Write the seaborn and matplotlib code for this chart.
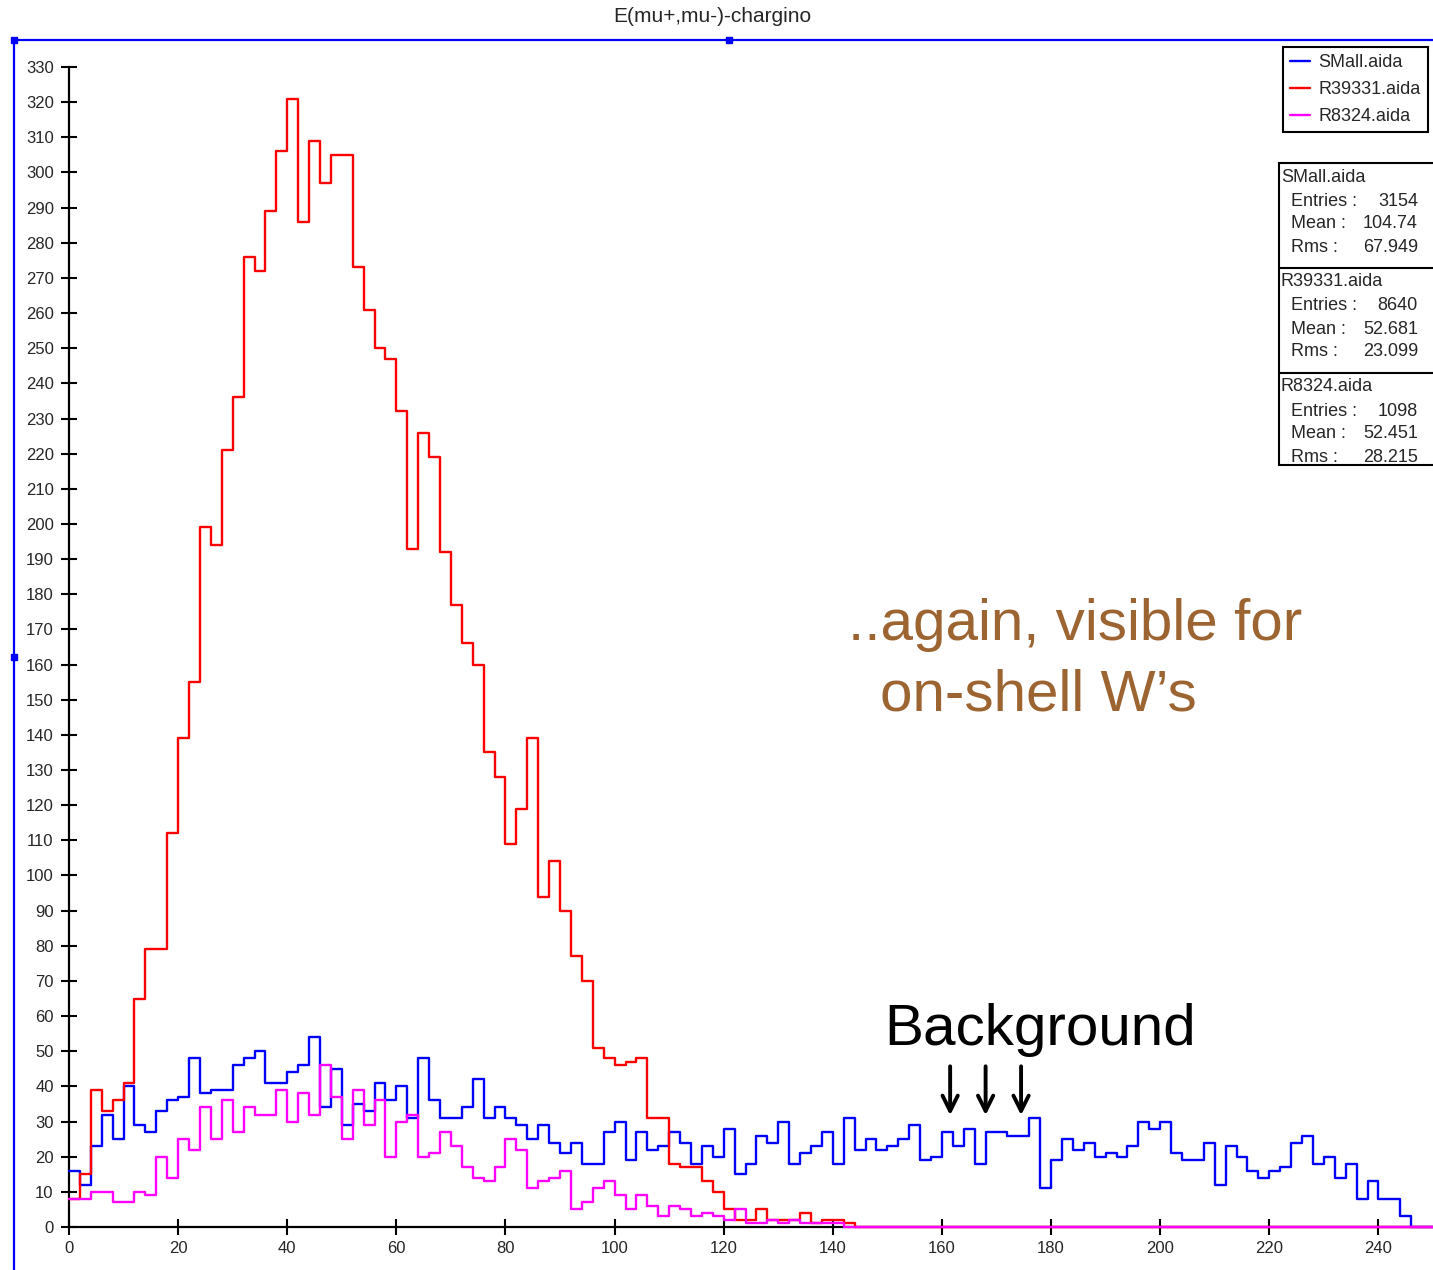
import numpy as np
import pandas as pd
import seaborn as sns
import matplotlib.pyplot as plt
from matplotlib.lines import Line2D
from matplotlib.patches import Rectangle

sns.set_style("white")
plt.rcParams['font.family'] = ['Liberation Sans', 'DejaVu Sans']

W, H = 1433, 1270

# 2-unit bins from 0 to 250
bin_edges = np.arange(0, 252, 2)

small_counts = [16, 12, 23, 32, 25, 40, 29, 27, 33, 36,
                37, 48, 38, 39, 39, 46, 48, 50, 41, 41,
                44, 46, 54, 34, 45, 29, 35, 33, 41, 36,
                40, 31, 48, 36, 31, 31, 34, 42, 31, 34,
                31, 29, 25, 29, 24, 21, 24, 18, 18, 27,
                30, 19, 27, 22, 23, 27, 24, 18, 23, 20,
                28, 15, 18, 26, 24, 30, 18, 21, 23, 27,
                18, 31, 22, 25, 22, 23, 25, 29, 19, 20,
                27, 23, 28, 18, 27, 27, 26, 26, 31, 11,
                19, 25, 22, 24, 20, 21, 20, 23, 30, 28,
                30, 21, 19, 19, 24, 12, 23, 20, 16, 14,
                16, 17, 24, 26, 18, 20, 14, 18, 8, 13,
                8, 8, 3, 0, 0]

r39331_counts = [8, 15, 39, 33, 36, 41, 65, 79, 79, 112,
                 139, 155, 199, 194, 221, 236, 276, 272, 289, 306,
                 321, 286, 309, 297, 305, 305, 273, 261, 250, 247,
                 232, 193, 226, 219, 192, 177, 166, 160, 135, 128,
                 109, 119, 139, 94, 104, 90, 77, 70, 51, 48,
                 46, 47, 48, 31, 31, 18, 17, 17, 13, 10,
                 5, 2, 2, 5, 2, 2, 2, 4, 1, 2,
                 2, 1, 0, 0, 0, 0, 0, 0, 0, 0,
                 0, 0, 0, 0, 0, 0, 0, 0, 0, 0,
                 0, 0, 0, 0, 0, 0, 0, 0, 0, 0,
                 0, 0, 0, 0, 0, 0, 0, 0, 0, 0,
                 0, 0, 0, 0, 0, 0, 0, 0, 0, 0,
                 0, 0, 0, 0, 0]

r8324_counts = [8, 8, 10, 10, 7, 7, 10, 9, 20, 14,
                25, 22, 34, 25, 36, 27, 34, 32, 32, 39,
                30, 38, 32, 46, 37, 25, 39, 29, 36, 20,
                30, 32, 20, 21, 27, 23, 17, 14, 13, 17,
                25, 22, 11, 13, 14, 16, 5, 7, 11, 13,
                9, 5, 9, 6, 3, 6, 5, 3, 4, 3,
                2, 5, 1, 1, 2, 1, 2, 1, 1, 1,
                1, 0, 0, 0, 0, 0, 0, 0, 0, 0,
                0, 0, 0, 0, 0, 0, 0, 0, 0, 0,
                0, 0, 0, 0, 0, 0, 0, 0, 0, 0,
                0, 0, 0, 0, 0, 0, 0, 0, 0, 0,
                0, 0, 0, 0, 0, 0, 0, 0, 0, 0,
                0, 0, 0, 0, 0]

sample_names = ["SMall.aida", "R39331.aida", "R8324.aida"]
sample_colors = ["#0000ff", "#ff0000", "#ff00ff"]
stat_entries = ["3154", "8640", "1098"]
stat_means = ["104.74", "52.681", "52.451"]
stat_rms = ["67.949", "23.099", "28.215"]

centers = bin_edges[:-1] + 1
df = pd.DataFrame({
    "E": np.tile(centers, 3),
    "count": small_counts + r39331_counts + r8324_counts,
    "sample": np.repeat(sample_names, len(centers)),
})


def fx(px):
    return px / W


def fy(py):
    return 1 - py / H


fig = plt.figure(figsize=(W / 100, H / 100), dpi=100)
ax = fig.add_axes([fx(69), fy(1227), fx(1433) - fx(69), fy(67) - fy(1227)])

for name, col in zip(sample_names, sample_colors):
    sub = df[df["sample"] == name]
    sns.histplot(data=sub, x="E", weights="count", binwidth=2, binrange=(0, 250),
                 element="step", fill=False, color=col, linewidth=1.7, ax=ax)
    ln = ax.lines[-1]
    ln.set_clip_on(False)
    ln.set_zorder(3)

ax.set_xlim(0, 250)
ax.set_ylim(0, 330)
ax.set_xlabel("")
ax.set_ylabel("")
ax.set_xticks(np.arange(0, 241, 20))
ax.set_yticks(np.arange(0, 331, 10))
sns.despine(ax=ax)
for s in ["left", "bottom"]:
    ax.spines[s].set_color("black")
    ax.spines[s].set_linewidth(1.6)
ax.tick_params(direction="inout", length=12, width=1.5, color="black",
               labelsize=12, left=True, bottom=True)
ax.tick_params(axis="y", pad=5)
ax.tick_params(axis="x", pad=4)

# legend
handles = [Line2D([], [], color=c, lw=1.7) for c in sample_colors]
leg = ax.legend(handles, sample_names, loc="upper left",
                bbox_to_anchor=(fx(1283), fy(47)), bbox_transform=fig.transFigure,
                borderaxespad=0, fontsize=13, handlelength=1.1, handletextpad=0.45,
                labelspacing=0.55, borderpad=0.4, fancybox=False, framealpha=1)
leg.get_frame().set_edgecolor("black")
leg.get_frame().set_linewidth(1.5)

# statistics box
fig.add_artist(Rectangle((fx(1279), fy(465)), fx(1440) - fx(1279), fy(163) - fy(465),
                         transform=fig.transFigure, facecolor="white",
                         edgecolor="black", lw=1.5))
for sep in [268, 373]:
    fig.add_artist(Line2D([fx(1279), fx(1433)], [fy(sep), fy(sep)],
                          transform=fig.transFigure, color="black", lw=1.5))
for i, y0 in enumerate([163, 268, 373]):
    fig.text(fx(1281), fy(y0 + 14), sample_names[i], fontsize=13, va="center")
    rows = [("Entries :", stat_entries[i]), ("Mean :", stat_means[i]),
            ("Rms :", stat_rms[i])]
    for j, (lab, val) in enumerate(rows):
        yy = y0 + 38 + j * 23
        fig.text(fx(1291), fy(yy), lab, fontsize=13, va="center")
        fig.text(fx(1418), fy(yy), val, fontsize=13, va="center", ha="right")

# title and selection frame
fig.text(fx(712), fy(17), "E(mu+,mu-)-chargino", ha="center", va="center", fontsize=15)
fig.add_artist(Line2D([fx(14), fx(1433)], [fy(40), fy(40)],
                      transform=fig.transFigure, color="#0000ff", lw=1.6))
fig.add_artist(Line2D([fx(14), fx(14)], [fy(40), fy(1270)],
                      transform=fig.transFigure, color="#0000ff", lw=1.6))
for hx, hy in [(14, 40), (729, 40), (14, 657)]:
    fig.add_artist(Rectangle((fx(hx - 3), fy(hy + 3)), fx(6), 6 / H,
                             transform=fig.transFigure, color="#0000ff"))

# annotations
brown = "#9c6430"
ax.text(142.7, 167, "..again, visible for", fontsize=42, color=brown, va="baseline")
ax.text(148.6, 147, "on-shell W\u2019s", fontsize=42, color=brown, va="baseline")
ax.text(149.4, 51.8, "Background", fontsize=42, color="black", va="baseline")
for xa in [161.5, 168.0, 174.5]:
    ax.annotate("", xy=(xa, 31), xytext=(xa, 46.5),
                arrowprops=dict(arrowstyle="->,head_length=1.1,head_width=0.55",
                                lw=2.8, color="black"))

fig.savefig("out.png", dpi=100)
